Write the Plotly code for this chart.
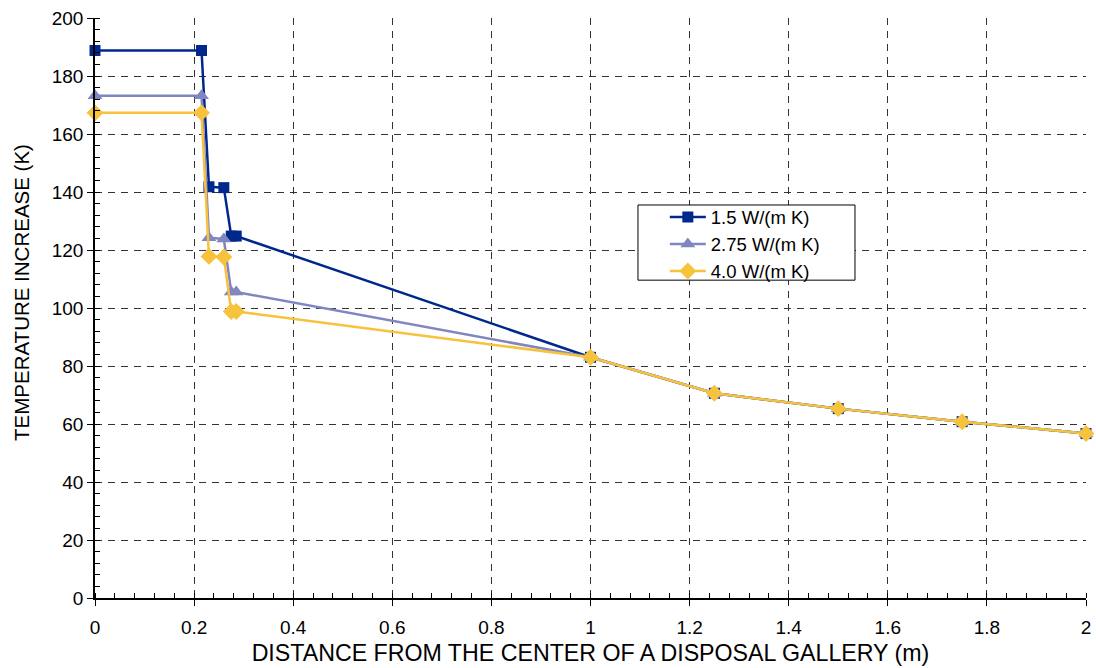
import plotly.graph_objects as go

distance = [0, 0.215, 0.23, 0.26, 0.275, 0.285, 1.0, 1.25, 1.5, 1.75, 2.0]
temp_15 = [188.8, 188.8, 141.8, 141.5, 124.8, 124.8, 83.0, 70.6, 65.3, 60.8, 56.7]
temp_275 = [173.2, 173.2, 124.2, 123.8, 105.5, 105.5, 83.0, 70.6, 65.3, 60.8, 56.7]
temp_40 = [167.3, 167.3, 117.8, 117.6, 98.8, 98.8, 83.0, 70.6, 65.3, 60.8, 56.7]
series_names = ["1.5 W/(m K)", "2.75 W/(m K)", "4.0 W/(m K)"]
x_ticks = [0, 0.2, 0.4, 0.6, 0.8, 1, 1.2, 1.4, 1.6, 1.8, 2]
x_tick_labels = ["0", "0.2", "0.4", "0.6", "0.8", "1", "1.2", "1.4", "1.6", "1.8", "2"]

FONT = "Liberation Sans, Arial, sans-serif"

fig = go.Figure()
styles = [
    ("#00288C", "square", 11),
    ("#7F86C0", "triangle-up", 13),
    ("#F7C23C", "diamond", 13),
]
for ys, name, (col, sym, sz) in zip([temp_15, temp_275, temp_40], series_names, styles):
    fig.add_trace(go.Scatter(
        x=distance, y=ys, name=name, mode="lines+markers",
        line=dict(color=col, width=2.5),
        marker=dict(symbol=sym, size=sz, color=col, line=dict(width=0)),
        cliponaxis=False,
    ))

grid = dict(showgrid=True, gridcolor="#333333", gridwidth=1, griddash="7px,6px")
fig.update_layout(
    width=1096, height=668,
    margin=dict(l=95, r=10, t=18, b=70),
    paper_bgcolor="white", plot_bgcolor="white",
    font=dict(family=FONT, size=19, color="black"),
    showlegend=True,
    legend=dict(
        x=0.575, y=0.689, xanchor="left", yanchor="top",
        bgcolor="rgba(0,0,0,0)", borderwidth=0,
        font=dict(family=FONT, size=18.5, color="black"),
        tracegroupgap=0, itemwidth=36,
    ),
    shapes=[dict(
        type="rect", xref="paper", yref="paper",
        x0=0.5479, x1=0.7669, y0=0.548, y1=0.6776,
        line=dict(color="black", width=1), fillcolor="white", layer="above",
    )],
    xaxis=dict(
        range=[0, 2], tickvals=x_ticks, ticktext=x_tick_labels,
        showline=True, linecolor="black", linewidth=1.5,
        ticks="outside", ticklen=6, tickcolor="black",
        ticklabelstandoff=5,
        minor=dict(dtick=0.04, ticks="inside", ticklen=5, tickcolor="black", showgrid=False),
        zeroline=False, automargin=False,
        title=dict(text="DISTANCE FROM THE CENTER OF A DISPOSAL GALLERY (m)",
                   font=dict(family=FONT, size=23.2), standoff=8),
        **grid,
    ),
    yaxis=dict(
        range=[0, 200], dtick=20,
        showline=True, linecolor="black", linewidth=1.5,
        ticks="outside", ticklen=6, tickcolor="black",
        minor=dict(dtick=4, ticks="inside", ticklen=5, tickcolor="black", showgrid=False),
        zeroline=False, automargin=False,
        **grid,
    ),
    annotations=[dict(
        text="TEMPERATURE INCREASE (K)", textangle=-90,
        xref="paper", yref="paper", x=-0.0737, y=0.5276,
        xanchor="center", yanchor="middle", showarrow=False,
        font=dict(family=FONT, size=20.5, color="black"),
    )],
)

fig.write_html("out.html")
